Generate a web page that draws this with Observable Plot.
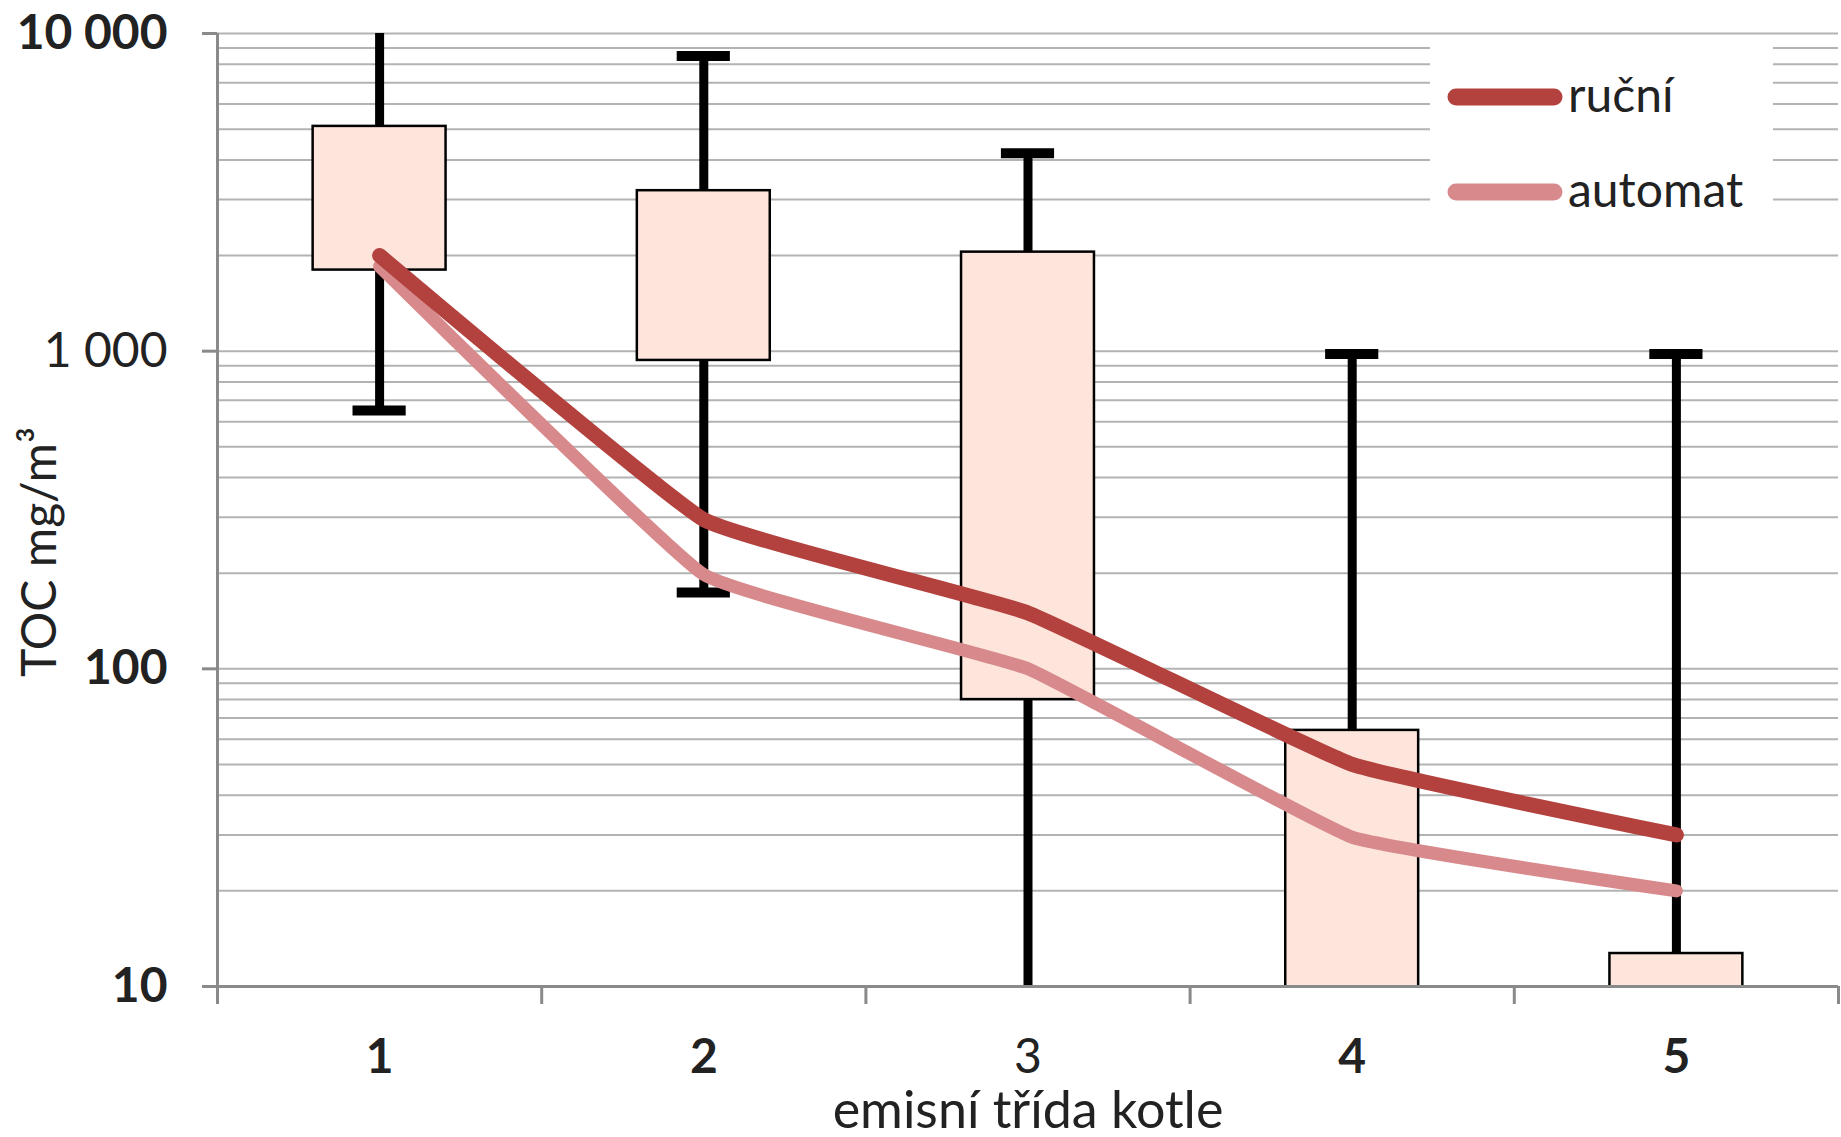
<!DOCTYPE html>
<html>
<head>
<meta charset="utf-8">
<script src="https://cdn.jsdelivr.net/npm/d3@7"></script>
<script src="https://cdn.jsdelivr.net/npm/@observablehq/plot@0.6"></script>
<style>
  html, body { margin: 0; padding: 0; background: #fff; }
  #wrap { position: relative; width: 1841px; height: 1137px; overflow: hidden; }
  #legend { position: absolute; left: 1430px; top: 38px; }
</style>
</head>
<body>
<div id="wrap"></div>
<script>
// ---- data ----
const classes = [1, 2, 3, 4, 5];
const whiskerLow = [650, 174, 8, null, null];        // class 3 runs below the axis
const q1 = [1800, 935, 80, 8, 8];                     // classes 4,5 start below axis
const q3 = [5100, 3200, 2050, 64, 12.7];
const whiskerHigh = [12000, 8500, 4200, 980, 980];   // class 1 runs above the axis
const rucni = [2000, 295, 150, 50, 30];
const automat = [1850, 198, 100, 29.5, 20];
const seriesNames = ["ruční", "automat"];
const seriesColors = ["#b3413d", "#d8898b"];
const yTicks = [10, 100, 1000, 10000];
const classBounds = [0.5, 1.5, 2.5, 3.5, 4.5, 5.5];
const xTitle = "emisní třída kotle";
const yTitle = "TOC mg/m³";

// ---- derived tables ----
const boxes = classes.map((c, i) => ({c, lo: whiskerLow[i], q1: q1[i], q3: q3[i], hi: whiskerHigh[i]}));
const lowBoxes = boxes.filter(d => d.lo != null);
const lines = [
  ...classes.map((c, i) => ({c, v: rucni[i], s: seriesNames[0]})),
  ...classes.map((c, i) => ({c, v: automat[i], s: seriesNames[1]}))
];
const grid = [];
for (const dec of [10, 100, 1000]) for (let k = 1; k <= 9; k++) grid.push(dec * k);
grid.push(10000);

const fmt = v => d3.format(",")(v).replace(/,/g, " ");
const BOX = 0.205, CAP = 0.082;
const FONT = "Lato, 'Open Sans', sans-serif";

const chart = Plot.plot({
  width: 1841,
  height: 1137,
  marginLeft: 217,
  marginRight: 3,
  marginTop: 33,
  marginBottom: 151,
  x: {type: "linear", domain: [0.5, 5.5], axis: null},
  y: {type: "log", domain: [10, 10000], axis: null},
  style: {fontFamily: FONT, color: "#222", background: "#fff"},
  marks: [
    Plot.ruleY(grid, {stroke: "#b3b3b3", strokeWidth: 2}),
    // whiskers
    Plot.ruleX(boxes, {x: "c", y1: "q3", y2: "hi", stroke: "#000", strokeWidth: 9, clip: true}),
    Plot.ruleX(lowBoxes, {x: "c", y1: "lo", y2: "q1", stroke: "#000", strokeWidth: 9, clip: true}),
    Plot.ruleY(boxes, {y: "hi", x1: d => d.c - CAP, x2: d => d.c + CAP, stroke: "#000", strokeWidth: 10, clip: true}),
    Plot.ruleY(lowBoxes, {y: "lo", x1: d => d.c - CAP, x2: d => d.c + CAP, stroke: "#000", strokeWidth: 10, clip: true}),
    // boxes
    Plot.rect(boxes, {x1: d => d.c - BOX, x2: d => d.c + BOX, y1: "q1", y2: "q3", fill: "#fde5db", stroke: "#000", strokeWidth: 2.5, clip: true}),
    // axes lines
    Plot.ruleX([0.5], {stroke: "#8a8a8a", strokeWidth: 3}),
    Plot.ruleY([10], {stroke: "#8a8a8a", strokeWidth: 3}),
    // series lines
    Plot.line(lines.filter(d => d.s === seriesNames[1]), {x: "c", y: "v", stroke: seriesColors[1], strokeWidth: 13, curve: "cardinal", tension: 0.7, strokeLinecap: "round", strokeLinejoin: "round"}),
    Plot.line(lines.filter(d => d.s === seriesNames[0]), {x: "c", y: "v", stroke: seriesColors[0], strokeWidth: 15, curve: "cardinal", tension: 0.7, strokeLinecap: "round", strokeLinejoin: "round"}),
    // y axis
    Plot.axisY(yTicks, {tickSize: 15, tickPadding: 35, tickFormat: fmt, fontSize: 48, stroke: "#8a8a8a", strokeWidth: 3, label: null}),
    // x axis tick marks at class boundaries
    Plot.axisX(classBounds, {tickSize: 18, tickFormat: () => "", stroke: "#8a8a8a", strokeWidth: 3, label: null}),
    // x axis labels at class centers
    Plot.axisX(classes, {tickSize: 0, tickPadding: 52, tickFormat: d => String(d), fontSize: 48, label: null}),
    // titles
    Plot.text([xTitle], {text: d => d, frameAnchor: "bottom", dy: 141, fontSize: 52, fill: "#222"}),
    Plot.text([yTitle], {text: d => d, frameAnchor: "left", textAnchor: "middle", lineAnchor: "middle", dx: -177, dy: 42, rotate: -90, fontSize: 48, fill: "#222"})
  ]
});

// tick label weights as rendered in the reference
d3.select(chart).selectAll("text").each(function () {
  const t = this.textContent;
  if (["10 000", "100", "10", "1", "2", "4", "5"].includes(t)) this.setAttribute("font-weight", "bold");
});

const wrap = document.getElementById("wrap");
wrap.appendChild(chart);

// ---- legend (HTML overlay inside the plot area) ----
const lg = d3.select(wrap).append("svg").attr("id", "legend")
  .attr("width", 343).attr("height", 192);
lg.append("rect").attr("width", 343).attr("height", 192).attr("fill", "#fff");
seriesNames.forEach((name, i) => {
  const g = lg.append("g").attr("transform", `translate(0,${59 + i * 95})`);
  g.append("line").attr("x1", 26).attr("x2", 124).attr("stroke", seriesColors[i])
    .attr("stroke-width", 17).attr("stroke-linecap", "round");
  g.append("text").attr("x", 138).attr("y", 0).attr("dy", "0.32em")
    .attr("font-family", FONT).attr("font-size", 48).attr("fill", "#222").text(name);
});
</script>
</body>
</html>
